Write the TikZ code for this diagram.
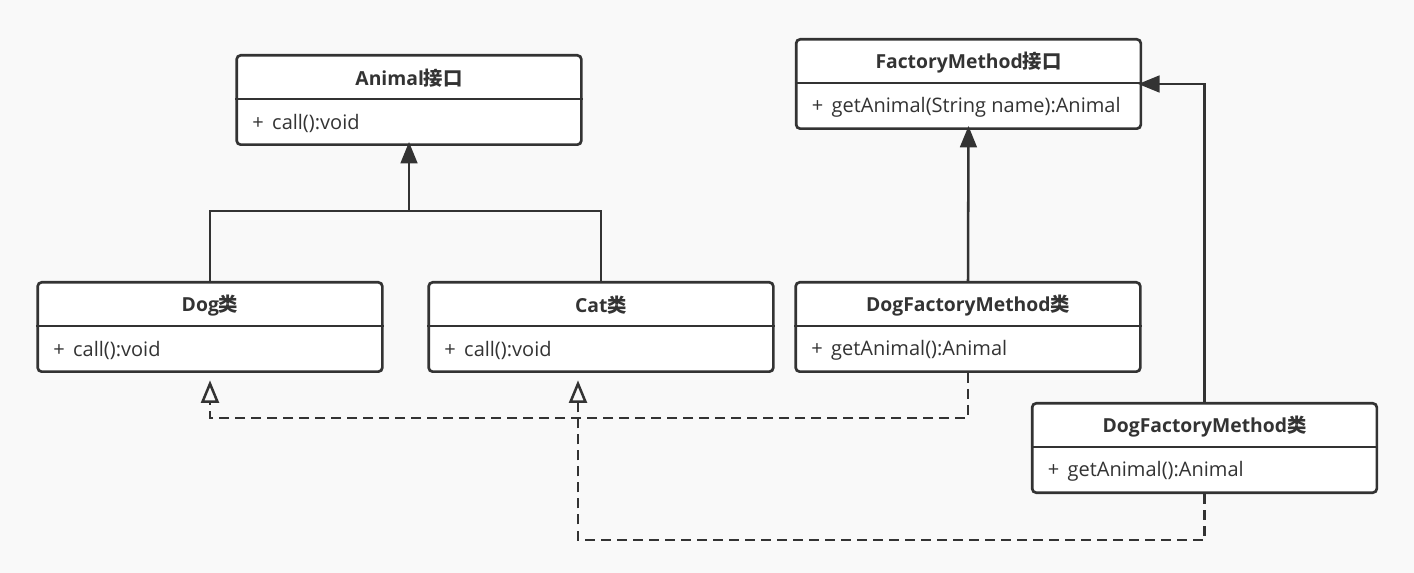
\documentclass[tikz,border=0pt]{standalone}
\usepackage{fontspec}
\setmainfont{Open Sans}
\newfontfamily\cjk{Noto Sans CJK SC}
\usetikzlibrary{arrows.meta}
\definecolor{ln}{HTML}{333333}
\definecolor{bg}{HTML}{F9F9F9}
\tikzset{
  clsbox/.style={draw=ln, line width=2pt, fill=white, rounded corners=3pt, minimum width=258.5pt, minimum height=67pt, inner sep=0pt},
  divline/.style={draw=ln, line width=1.6pt},
  titletext/.style={font=\fontsize{14.5}{17}\selectfont\bfseries, text=ln, inner sep=0pt},
  membertext/.style={font=\fontsize{15}{17}\selectfont, text=ln, inner sep=0pt},
  conn/.style={draw=ln, line width=1.9pt},
  inhe/.style={conn, -{Triangle[length=16pt, width=12.5pt]}},
  real/.style={conn, dash pattern=on 7.5pt off 4.5pt, -{Triangle[open, length=17pt, width=13.5pt, line width=1.9pt]}},
}
\newcommand\umlbox[5]{%
  \node[clsbox, anchor=north] (#1) at (#2,#3) {};
  \draw[divline] ([yshift=-33.75pt]#1.north west) -- ([yshift=-33.75pt]#1.north east);
  \node[titletext] (#1-t) at ([yshift=-18.3pt]#1.north) {#4};
  \node[membertext, anchor=west] (#1-m) at ([xshift=12.5pt, yshift=-52.3pt]#1.north west) {#5};
}
\begin{document}
\begin{tikzpicture}[x=0.75pt, y=-0.75pt]
\fill[bg] (0,0) rectangle (1414,573);
\useasboundingbox (0,0) rectangle (1414,573);
\umlbox{animal}{409}{54}{Animal{\cjk\bfseries 接口}}{+ \,call():void}
\umlbox{fm}{968.5}{38}{FactoryMethod{\cjk\bfseries 接口}}{+ \,getAnimal(String name):Animal}
\umlbox{dog}{210}{281}{Dog{\cjk\bfseries 类}}{+ \,call():void}
\umlbox{cat}{601}{281}{Cat{\cjk\bfseries 类}}{+ \,call():void}
\umlbox{dfma}{968}{281}{DogFactoryMethod{\cjk\bfseries 类}}{+ \,getAnimal():Animal}
\umlbox{dfmb}{1204.5}{402}{DogFactoryMethod{\cjk\bfseries 类}}{+ \,getAnimal():Animal}
\coordinate (inh) at (409,211);
\draw[conn] (dog.north) |- (inh) -| (cat.north);
\draw[inhe] (inh) -- ([yshift=3pt]animal.south);
\draw[inhe] (dfma.north) -- ([yshift=3pt]fm.south);
\draw[inhe] (dfmb.north) |- ([xshift=-3pt]fm.east);
\coordinate (dogtip) at ([yshift=-5.5pt]dog.south);
\coordinate (cattip) at ([xshift=-17.25pt, yshift=-5.5pt]cat.south);
\draw[real] (dfma.south) -- ++(0,45) -| (dogtip);
\draw[real] (dfmb.south) -- ++(0,46) -| (cattip);
\end{tikzpicture}
\end{document}
